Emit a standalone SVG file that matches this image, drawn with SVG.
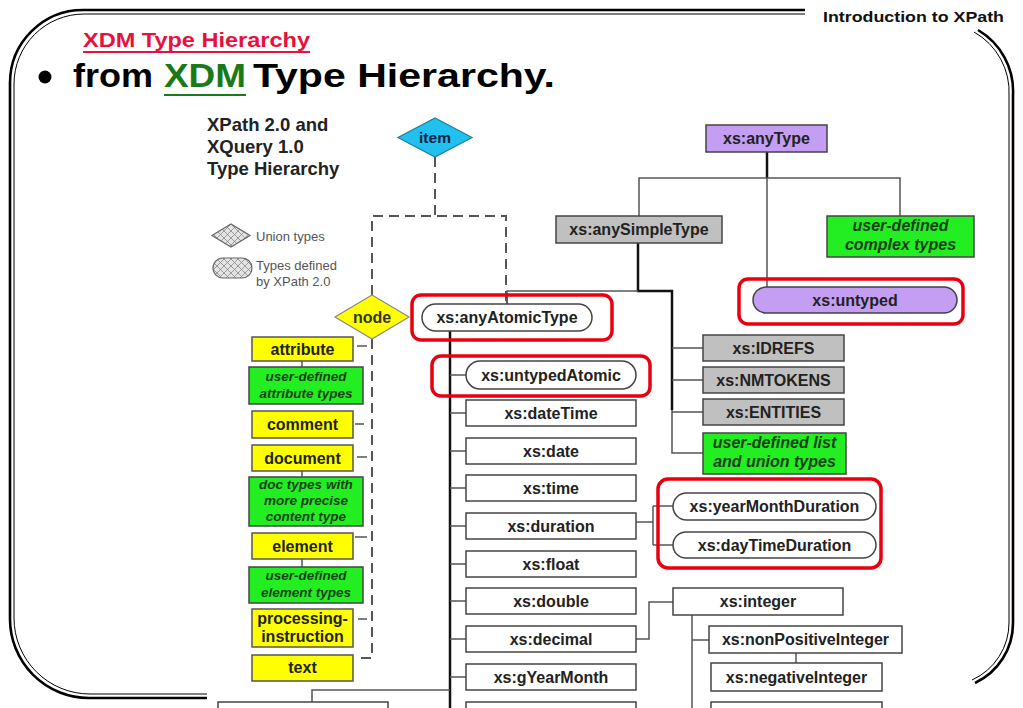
<svg xmlns="http://www.w3.org/2000/svg" width="1023" height="708" viewBox="0 0 1023 708">
<style>
text{font-family:"Liberation Sans",Arial,sans-serif;}
.lbl{font-size:16px;font-weight:bold;fill:#222;text-anchor:middle;}
.grn{font-size:16px;font-weight:bold;font-style:italic;fill:#173f17;text-anchor:middle;}
.grs{font-size:13.5px;font-weight:bold;font-style:italic;fill:#173f17;text-anchor:middle;}
.wb{fill:#fff;stroke:#444;stroke-width:1.5;}
.yb{fill:#ffff00;stroke:#555;stroke-width:1.5;}
.gb{fill:#22ee22;stroke:#444;stroke-width:1.5;}
.sb{fill:#c0c0c0;stroke:#444;stroke-width:1.5;}
.pb{fill:#c39ef2;stroke:#444;stroke-width:1.5;}
.red{fill:none;stroke:#e8000e;stroke-width:3.5;}
.ln{fill:none;stroke:#555;stroke-width:1.5;}
.bk{fill:none;stroke:#111;stroke-width:2.5;}
.dash{fill:none;stroke:#555;stroke-width:2;stroke-dasharray:10 6;}
.leg{font-size:13px;fill:#555;}
.frm{fill:none;stroke:#000;stroke-width:2.6;}
.frm2{fill:none;stroke:#000;stroke-width:1;}
</style>
<defs>
<pattern id="hatch" width="7" height="7" patternUnits="userSpaceOnUse">
<rect width="7" height="7" fill="#e4e4e4"/>
<path d="M0,0 L7,7 M7,0 L0,7" stroke="#888" stroke-width="0.8"/>
</pattern>
</defs>
<rect width="1023" height="708" fill="#fff"/>

<g id="frame">
<path class="frm" d="M805,10 L83,10 A73,73 0 0 0 10,83 L10,619 A79,79 0 0 0 89,698 L207,698"/>
<path class="frm2" d="M805,14 L84,14 A70,70 0 0 0 14,84 L14,618 A76,76 0 0 0 90,694 L207,694"/>
<path class="frm" d="M978,30 A71,71 0 0 1 1013,95 L1013,623 A66,66 0 0 1 975,683"/>
<path class="frm2" d="M974,32 A69,69 0 0 1 1009,96 L1009,622 A63,63 0 0 1 972,680"/>
</g>

<g id="header">
<text x="1004" y="22" text-anchor="end" font-size="15.5" font-weight="bold" fill="#111" textLength="181" lengthAdjust="spacingAndGlyphs">Introduction to XPath</text>
<text x="83" y="47" font-size="21" font-weight="bold" fill="#e8103c" textLength="227" lengthAdjust="spacingAndGlyphs">XDM Type Hierarchy</text>
<line x1="83" y1="52" x2="310" y2="52" stroke="#e8103c" stroke-width="2"/>
<circle cx="45" cy="77" r="6.5" fill="#000"/>
<text x="73" y="87" font-size="33" font-weight="bold" fill="#000" textLength="80" lengthAdjust="spacingAndGlyphs">from</text>
<text x="164" y="87" font-size="33" font-weight="bold" fill="#1a7a1a" textLength="82" lengthAdjust="spacingAndGlyphs">XDM</text>
<line x1="164" y1="95" x2="246" y2="95" stroke="#1a7a1a" stroke-width="2"/>
<text x="253" y="87" font-size="33" font-weight="bold" fill="#000" textLength="302" lengthAdjust="spacingAndGlyphs">Type Hierarchy.</text>
</g>

<g id="title">
<text x="207" y="131" font-size="18.5" font-weight="bold" fill="#222">XPath 2.0 and</text>
<text x="207" y="153" font-size="18.5" font-weight="bold" fill="#222">XQuery 1.0</text>
<text x="207" y="175" font-size="18.5" font-weight="bold" fill="#222">Type Hierarchy</text>
</g>

<g id="legend">
<polygon points="212,235.5 231,224 250,235.5 231,247" fill="url(#hatch)" stroke="#666" stroke-width="1.2"/>
<text class="leg" x="256" y="241">Union types</text>
<rect x="213" y="258" width="39" height="20" rx="10" fill="url(#hatch)" stroke="#666" stroke-width="1.2"/>
<text class="leg" x="256" y="270">Types defined</text>
<text class="leg" x="256" y="286">by XPath 2.0</text>
</g>

<g id="connectors">
<!-- item dashed -->
<path class="dash" d="M435,157 L435,216"/>
<path class="dash" d="M372,295 L372,216 L506,216 L506,302"/>
<path class="ln" d="M507,296 L507,304"/>
<!-- node dashed -->
<path class="dash" d="M372,339 L372,658 L355,658"/>
<path class="ln" d="M357,346 L367,346 M355,424 L364,424 M357,457 L367,457 M355,537 L367,537 M358,619 L367,619"/>
<path class="ln" d="M302,361 L302,367 M302,471 L302,477 M302,559 L302,567"/>
<!-- anyType -->
<path class="bk" d="M767,152 L767,178"/>
<path class="ln" d="M639,216 L639,178 L900,178 L900,216 M767,178 L767,287"/>
<path class="bk" d="M638,243 L638,291 L672,291 L672,410"/>
<path class="ln" d="M507,304 L507,291 L638,291"/>
<path class="ln" d="M672,410 L672,453 L703,453 M672,348 L703,348 M672,380 L703,380 M672,412 L703,412"/>
<!-- main trunk -->
<path class="bk" d="M450,331 L450,710"/>
<path class="ln" d="M450,375 L466,375 M450,413 L466,413 M450,451 L466,451 M450,488 L466,488 M450,526 L466,526 M450,564 L466,564 M450,601 L466,601 M450,639 L466,639 M450,677 L466,677"/>
<path class="ln" d="M450,690 L312,690 L312,702"/>
<!-- duration -->
<path class="ln" d="M636,522 L653,522 M653,506 L653,545 M653,506 L673,506 M653,545 L673,545"/>
<!-- decimal -> integer -->
<path class="ln" d="M636,639 L649,639 L649,602 L673,602"/>
<path class="ln" d="M692,615 L692,710 M692,640 L709,640 M796,653 L796,663"/>
</g>

<g id="node-item">
<polygon points="435,118 472,137.5 435,157 398,137.5" fill="#22c0ee" stroke="#1a7fa0" stroke-width="1.2"/>
<text x="435" y="143" font-size="15.5" font-weight="bold" fill="#0b2447" text-anchor="middle">item</text>
</g>
<g id="node-node">
<polygon points="372,295 409,317 372,339 335,317" fill="#ffff00" stroke="#888" stroke-width="1.2"/>
<text x="372" y="323" font-size="16" font-weight="bold" fill="#333" text-anchor="middle">node</text>
</g>

<g id="node-attribute"><rect class="yb" x="252" y="337" width="101" height="24"/><text class="lbl" x="302.5" y="355">attribute</text></g>
<g id="node-ud-attr"><rect class="gb" x="249" y="367" width="114" height="37"/><text class="grs" x="306" y="381">user-defined</text><text class="grs" x="306" y="398">attribute types</text></g>
<g id="node-comment"><rect class="yb" x="252" y="411" width="101" height="27"/><text class="lbl" x="302.5" y="430">comment</text></g>
<g id="node-document"><rect class="yb" x="252" y="445" width="101" height="26"/><text class="lbl" x="302.5" y="464">document</text></g>
<g id="node-doctypes"><rect class="gb" x="249" y="477" width="114" height="49"/><text class="grs" x="306" y="489">doc types with</text><text class="grs" x="306" y="505">more precise</text><text class="grs" x="306" y="521">content type</text></g>
<g id="node-element"><rect class="yb" x="252" y="533" width="101" height="26"/><text class="lbl" x="302.5" y="552">element</text></g>
<g id="node-ud-elem"><rect class="gb" x="249" y="567" width="114" height="36"/><text class="grs" x="306" y="580">user-defined</text><text class="grs" x="306" y="597">element types</text></g>
<g id="node-pi"><rect class="yb" x="252" y="609" width="101" height="38"/><text class="lbl" x="302.5" y="624">processing-</text><text class="lbl" x="302.5" y="642">instruction</text></g>
<g id="node-text"><rect class="yb" x="252" y="655" width="101" height="26"/><text class="lbl" x="302.5" y="673">text</text></g>
<g id="node-cut-left"><rect class="wb" x="218" y="702" width="170" height="30"/></g>

<g id="node-anyType"><rect class="pb" x="706" y="125" width="121" height="27"/><text class="lbl" x="766.5" y="144">xs:anyType</text></g>
<g id="node-anySimpleType"><rect class="sb" x="556" y="216" width="166" height="27"/><text class="lbl" x="639" y="235">xs:anySimpleType</text></g>
<g id="node-complex"><rect class="gb" x="827" y="216" width="147" height="41"/><text class="grn" x="900.5" y="231">user-defined</text><text class="grn" x="900.5" y="250">complex types</text></g>
<g id="node-untyped"><rect class="red" x="739" y="279" width="224" height="45" rx="9"/><rect class="pb" x="753" y="287" width="204" height="26" rx="13"/><text class="lbl" x="855" y="306">xs:untyped</text></g>
<g id="node-IDREFS"><rect class="sb" x="703" y="335" width="141" height="26"/><text class="lbl" x="773.5" y="354">xs:IDREFS</text></g>
<g id="node-NMTOKENS"><rect class="sb" x="703" y="367" width="141" height="26"/><text class="lbl" x="773.5" y="386">xs:NMTOKENS</text></g>
<g id="node-ENTITIES"><rect class="sb" x="703" y="399" width="141" height="26"/><text class="lbl" x="773.5" y="418">xs:ENTITIES</text></g>
<g id="node-listunion"><rect class="gb" x="703" y="433" width="143" height="41"/><text class="grn" x="774.5" y="448">user-defined list</text><text class="grn" x="774.5" y="467">and union types</text></g>

<g id="node-anyAtomicType"><rect class="red" x="412" y="295" width="200" height="45" rx="9"/><rect class="wb" x="422" y="304" width="170" height="27" rx="13.5"/><text class="lbl" x="507" y="323">xs:anyAtomicType</text></g>
<g id="node-untypedAtomic"><rect class="red" x="432" y="356" width="218" height="40" rx="9"/><rect class="wb" x="466" y="361" width="170" height="28" rx="14"/><text class="lbl" x="551" y="381">xs:untypedAtomic</text></g>
<g id="node-dateTime"><rect class="wb" x="466" y="400" width="170" height="26"/><text class="lbl" x="551" y="419">xs:dateTime</text></g>
<g id="node-date"><rect class="wb" x="466" y="438" width="170" height="26"/><text class="lbl" x="551" y="457">xs:date</text></g>
<g id="node-time"><rect class="wb" x="466" y="475" width="170" height="26"/><text class="lbl" x="551" y="494">xs:time</text></g>
<g id="node-duration"><rect class="wb" x="466" y="513" width="170" height="26"/><text class="lbl" x="551" y="532">xs:duration</text></g>
<g id="node-float"><rect class="wb" x="466" y="551" width="170" height="26"/><text class="lbl" x="551" y="570">xs:float</text></g>
<g id="node-double"><rect class="wb" x="466" y="588" width="170" height="26"/><text class="lbl" x="551" y="607">xs:double</text></g>
<g id="node-decimal"><rect class="wb" x="466" y="626" width="170" height="26"/><text class="lbl" x="551" y="645">xs:decimal</text></g>
<g id="node-gYearMonth"><rect class="wb" x="466" y="664" width="170" height="26"/><text class="lbl" x="551" y="683">xs:gYearMonth</text></g>
<g id="node-cut-mid"><rect class="wb" x="466" y="702" width="170" height="30"/></g>

<g id="node-durations"><rect class="red" x="658" y="479" width="223" height="89" rx="10"/>
<rect class="wb" x="673" y="493" width="203" height="27" rx="13.5"/><text class="lbl" x="774.5" y="512">xs:yearMonthDuration</text>
<rect class="wb" x="673" y="532" width="203" height="26" rx="13"/><text class="lbl" x="774.5" y="551">xs:dayTimeDuration</text></g>
<g id="node-integer"><rect class="wb" x="673" y="588" width="170" height="27"/><text class="lbl" x="758" y="607">xs:integer</text></g>
<g id="node-nonPositiveInteger"><rect class="wb" x="709" y="626" width="193" height="27"/><text class="lbl" x="805.5" y="645">xs:nonPositiveInteger</text></g>
<g id="node-negativeInteger"><rect class="wb" x="711" y="663" width="171" height="28"/><text class="lbl" x="796.5" y="683">xs:negativeInteger</text></g>
<g id="node-cut-right"><rect class="wb" x="711" y="702" width="171" height="30"/></g>
</svg>
